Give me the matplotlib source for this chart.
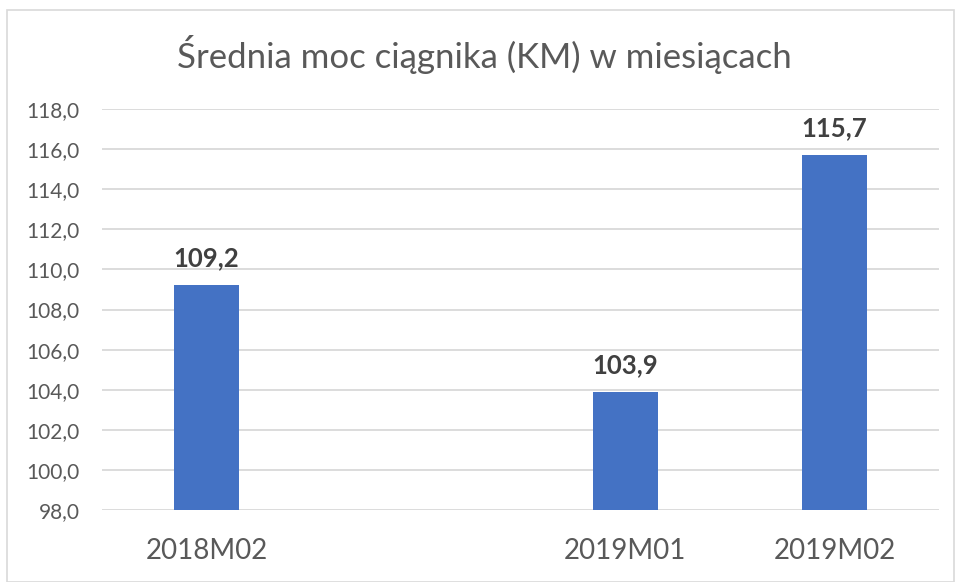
import matplotlib.pyplot as plt
import numpy as np
from matplotlib.patches import Rectangle

plt.rcParams['font.family'] = ['Lato', 'DejaVu Sans']

# dane z wykresu (pusta kategoria miedzy 2018M02 a 2019M01)
kategorie = ['2018M02', '', '2019M01', '2019M02']
moc = [109.2, np.nan, 103.9, 115.7]
yticks = np.arange(98, 118.1, 2)

fig = plt.figure(figsize=(9.57, 5.82), dpi=100)
ax = fig.add_axes([0.1066, 0.1237, 0.8746, 0.689])

# ramka wokol wykresu
fig.patches.append(Rectangle((7/957, 0), 947/957, 572/582, transform=fig.transFigure,
                             fill=False, edgecolor='#d9d9d9', lw=1.2))

loc = np.arange(len(kategorie))
slupki = ax.bar(loc, moc, 0.31, bottom=98, color='#4472c4', zorder=2)
# bottom=98 przesuwa slupki, wiec poprawiamy wysokosc
for b, v in zip(slupki, moc):
    if not np.isnan(v):
        b.set_height(v - 98)
        ax.text(b.get_x() + b.get_width()/2, v + 0.75, ('%.1f' % v).replace('.', ','),
                ha='center', va='bottom', fontsize=18.5, fontweight='bold', color='#404040')

ax.set_xlim(-0.5, len(kategorie) - 0.5)
ax.set_ylim(98, 118)
ax.set_yticks(yticks)
ax.set_yticklabels([('%.1f' % t).replace('.', ',') for t in yticks])
ax.set_xticks(loc)
ax.set_xticklabels(kategorie)
ax.tick_params(axis='y', length=0, pad=16, labelsize=15, labelcolor='#595959')
ax.tick_params(axis='x', length=0, pad=20, labelsize=20, labelcolor='#595959')
ax.grid(axis='y', color='#d9d9d9', lw=1.3, zorder=0)
for s in ax.spines.values():
    s.set_visible(False)

fig.text(0.506, 0.907, 'Średnia moc ciągnika (KM) w miesiącach', ha='center', va='center',
         fontsize=25, color='#595959')

fig.savefig('out.png', dpi=100)
